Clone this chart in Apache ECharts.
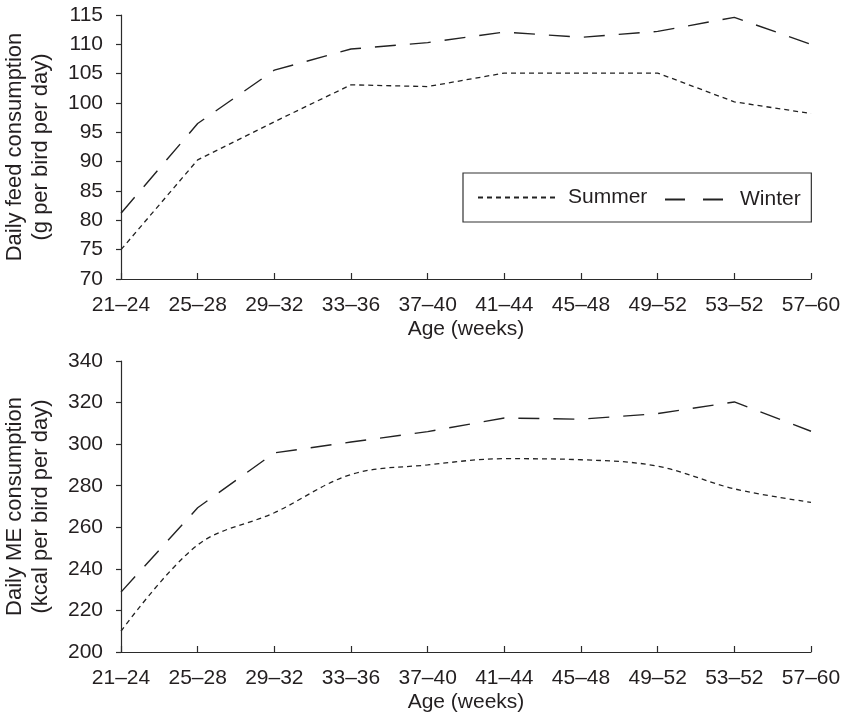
<!DOCTYPE html>
<html>
<head>
<meta charset="utf-8">
<script src="https://cdn.jsdelivr.net/npm/echarts@6/dist/echarts.min.js"></script>
<style>
html,body{margin:0;padding:0;background:#fff;}
#chart{width:848px;height:719px;}
</style>
</head>
<body>
<div id="chart"></div>
<script>
const ageGroups = ['21\u201324','25\u201328','29\u201332','33\u201336','37\u201340','41\u201344','45\u201348','49\u201352','53\u201352','57\u201360'];
const feedSummer = [75, 90.3, 96.8, 103.1, 102.8, 105.1, 105.1, 105.1, 100.2, 98.2];
const feedWinter = [81.2, 96.5, 105.6, 109.2, 110.3, 112.1, 111.2, 112.2, 114.6, 110.0];
const meSummer = [210, 251.5, 267, 285.4, 290, 293, 292.5, 289.4, 278.5, 272];
const meWinter = [228.8, 269.4, 295.8, 301, 306, 312.6, 312, 314.7, 320.3, 306.2];
const feedTicks = {min: 70, max: 115, interval: 5};
const meTicks = {min: 200, max: 340, interval: 20};

const FONT = '"Liberation Sans", Arial, sans-serif';
const TXT = '#231f20';
const AX = '#2b2b2b';

function xAxisCfg(gridIndex){
  return {
    type: 'category', gridIndex: gridIndex, data: ageGroups, boundaryGap: false,
    name: 'Age (weeks)', nameLocation: 'middle', nameGap: 40,
    nameTextStyle: {fontFamily: FONT, fontSize: 21, color: TXT},
    axisLine: {lineStyle: {color: AX, width: 1.2}},
    axisTick: {inside: true, length: 6, alignWithLabel: true, lineStyle: {color: AX, width: 1.2}},
    axisLabel: {interval: 0, margin: 16, fontFamily: FONT, fontSize: 21, color: TXT},
    splitLine: {show: false}
  };
}
function yAxisCfg(gridIndex, name, t){
  return {
    type: 'value', gridIndex: gridIndex, min: t.min, max: t.max, interval: t.interval,
    name: name, nameLocation: 'middle', nameRotate: 90, nameGap: 67,
    nameTextStyle: {fontFamily: FONT, fontSize: 22, color: TXT, lineHeight: 26, align: 'center'},
    axisLine: {show: true, lineStyle: {color: AX, width: 1.2}},
    axisTick: {show: true, length: 5, lineStyle: {color: AX, width: 1.2}},
    axisLabel: {margin: 18, fontFamily: FONT, fontSize: 21, color: TXT},
    splitLine: {show: false}
  };
}
const summerStyle = {color: '#222', width: 1.3, type: [5, 4]};
const winterStyle = {color: '#222', width: 1.4, type: [21, 14]};
const hiddenSymbol = {color: 'rgba(0,0,0,0)', borderWidth: 0, opacity: 0};

const option = {
  backgroundColor: '#fff',
  animation: false,
  grid: [
    {left: 121, right: 37, top: 15, height: 264, outerBoundsMode: 'none', containLabel: false},
    {left: 121, right: 37, top: 361, height: 291, outerBoundsMode: 'none', containLabel: false}
  ],
  xAxis: [xAxisCfg(0), xAxisCfg(1)],
  yAxis: [
    yAxisCfg(0, 'Daily feed consumption\n(g per bird per day)', feedTicks),
    yAxisCfg(1, 'Daily ME consumption\n(kcal per bird per day)', meTicks)
  ],
  legend: [
    {
      data: ['Summer'], left: 463, top: 173,
      padding: [14, 164, 14, 14],
      borderColor: '#333', borderWidth: 1.2,
      itemWidth: 77, itemHeight: 14,
      itemStyle: hiddenSymbol,
      textStyle: {fontFamily: FONT, fontSize: 21, color: TXT, padding: [0, 0, 0, 8]}
    },
    {
      data: ['Winter'], left: 664, top: 189, padding: 0,
      itemWidth: 58, itemHeight: 14,
      itemStyle: hiddenSymbol,
      lineStyle: {type: [20, 18]},
      textStyle: {fontFamily: FONT, fontSize: 21, color: TXT, padding: [0, 0, 0, 12]}
    }
  ],
  series: [
    {name: 'Summer', type: 'line', xAxisIndex: 0, yAxisIndex: 0, data: feedSummer, symbol: 'none', lineStyle: summerStyle, itemStyle: {color: '#222'}},
    {name: 'Winter', type: 'line', xAxisIndex: 0, yAxisIndex: 0, data: feedWinter, symbol: 'none', lineStyle: winterStyle, itemStyle: {color: '#222'}},
    {name: 'Summer', type: 'line', xAxisIndex: 1, yAxisIndex: 1, data: meSummer, symbol: 'none', smooth: 0.35, lineStyle: summerStyle, itemStyle: {color: '#222'}},
    {name: 'Winter', type: 'line', xAxisIndex: 1, yAxisIndex: 1, data: meWinter, symbol: 'none', lineStyle: winterStyle, itemStyle: {color: '#222'}}
  ]
};
const chart = echarts.init(document.getElementById('chart'), null, {renderer: 'canvas'});
chart.setOption(option);
</script>
</body>
</html>
